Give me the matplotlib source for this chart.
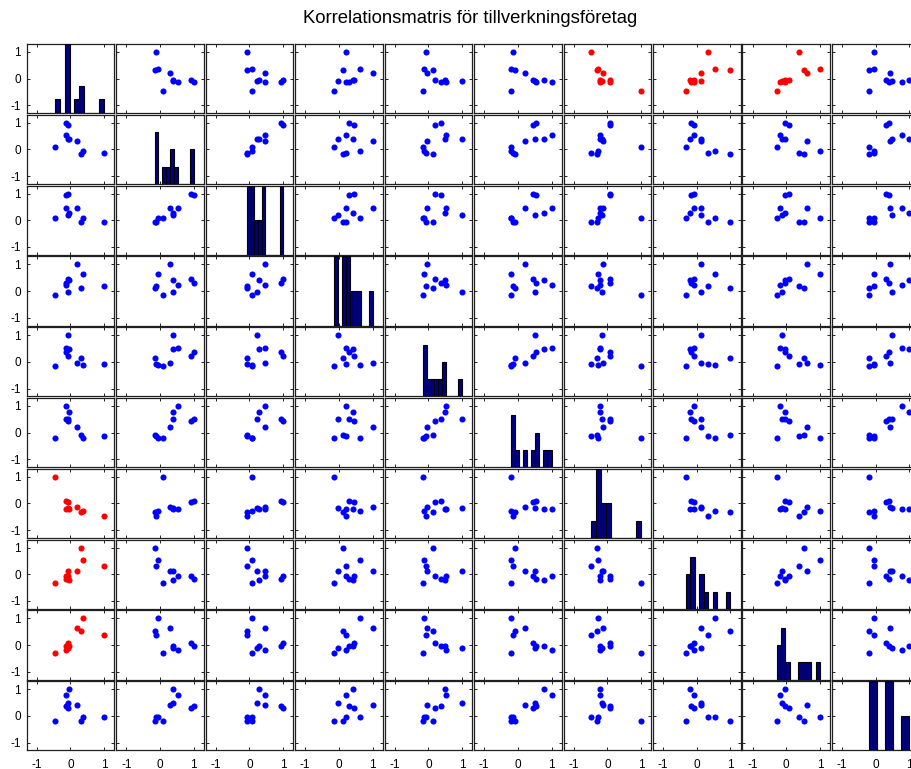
import numpy as np
import matplotlib.pyplot as plt

plt.rcParams['font.family'] = ['Liberation Sans', 'DejaVu Sans']
plt.rcParams['axes.unicode_minus'] = False

# correlation matrix, one list per variable (column)
var1 = [1.00, -0.12, -0.06, 0.20, -0.085, -0.14, -0.47, 0.32, 0.38, -0.05]
var2 = [-0.12, 1.00, 0.93, 0.30, 0.38, 0.53, 0.09, -0.16, -0.05, 0.38]
var3 = [-0.06, 0.93, 1.00, 0.46, 0.21, 0.45, 0.07, -0.07, 0.08, 0.29]
var4 = [0.20, 0.30, 0.46, 1.00, -0.03, 0.225, -0.14, 0.12, 0.63, 0.41]
var5 = [-0.085, 0.38, 0.21, -0.03, 1.00, 0.52, -0.17, 0.13, -0.12, 0.48]
var6 = [-0.14, 0.53, 0.45, 0.225, 0.52, 1.00, -0.21, -0.08, -0.20, 0.78]
var7 = [-0.47, 0.09, 0.07, -0.14, -0.17, -0.21, 1.00, -0.32, -0.28, -0.21]
var8 = [0.32, -0.16, -0.07, 0.12, 0.13, -0.08, -0.32, 1.00, 0.53, -0.21]
var9 = [0.38, -0.05, 0.08, 0.63, -0.12, -0.20, -0.28, 0.53, 1.00, -0.04]
var10 = [-0.05, 0.38, 0.29, 0.41, 0.48, 0.78, -0.21, -0.21, -0.04, 1.00]

# pairs drawn in red (row, col), mirrored below
red_pairs = [(0, 6), (0, 7), (0, 8)]

title = 'Korrelationsmatris för tillverkningsföretag'

data = np.column_stack([var1, var2, var3, var4, var5, var6, var7, var8, var9, var10])
n = data.shape[1]
red = set(red_pairs) | set((b, a) for a, b in red_pairs)

W, H = 912, 769
fig = plt.figure(figsize=(W / 100, H / 100), dpi=100)

# grid geometry in pixels
left0, top0 = 26.7, 44.0
dx, dy = 89.47, 70.8
cw, ch = 87.6, 69.3
lim = (-1.3, 1.3)

for i in range(n):
    for j in range(n):
        x0 = left0 + j * dx
        y0 = top0 + i * dy
        ax = fig.add_axes([x0 / W, 1 - (y0 + ch) / H, cw / W, ch / H])
        ax.set_xlim(lim)
        ax.set_ylim(lim)
        ax.set_xticks([-1, 0, 1])
        ax.set_yticks([-1, 0, 1])
        ax.tick_params(direction='in', length=2.5, width=0.6, top=True, right=True,
                       labelsize=8.5, pad=4, colors='black')
        ax.tick_params(axis='x', pad=6)
        for s in ax.spines.values():
            s.set_linewidth(0.9)
            s.set_color('#202020')
        if j > 0:
            ax.set_yticklabels([])
        if i < n - 1:
            ax.set_xticklabels([])

        if i == j:
            counts, edges = np.histogram(data[:, i], bins=10)
            hx = ax.twinx()
            hx.bar(edges[:-1], counts, width=np.diff(edges), align='edge',
                   color='#000080', edgecolor='black', linewidth=0.8)
            m = counts.max()
            hx.set_ylim(0, 4 if m == 3 else m)
            hx.set_yticks([])
            for s in hx.spines.values():
                s.set_visible(False)
        else:
            c = '#ff0000' if (i, j) in red else '#0000ff'
            ax.plot(data[:, j], data[:, i], 'o', color=c, ms=4.4, mew=0)

fig.text(470 / W, 1 - 22.7 / H, title, ha='center', va='baseline', fontsize=13.3)

fig.savefig('out.png', dpi=100)
